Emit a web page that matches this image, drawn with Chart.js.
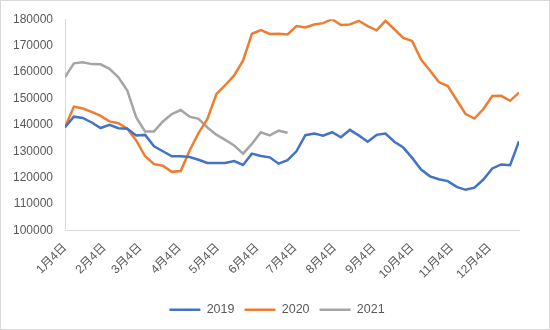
<!DOCTYPE html>
<html>
<head>
<meta charset="utf-8">
<script src="https://cdn.jsdelivr.net/npm/chart.js@4"></script>
<style>
  html, body { margin: 0; padding: 0; background: #ffffff; }
  #wrap { width: 550px; height: 330px; }
</style>
</head>
<body>
<div id="wrap"><canvas id="c" width="550" height="330"></canvas></div>
<script>
// Weekly series, first point on 1月4日, one point per week
const series2019 = [139100, 143100, 142600, 140900, 138800, 140000, 138700, 138500, 136000, 136200,
  131900, 130000, 128100, 128100, 127800, 126800, 125600, 125600, 125600, 126300,
  124800, 129100, 128200, 127700, 125300, 126600, 130000, 136100, 136700, 135900,
  137200, 135300, 138100, 136000, 133600, 136200, 136700, 133600, 131400, 127500,
  123100, 120500, 119400, 118700, 116500, 115400, 116200, 119300, 123500, 125000,
  124700, 133800];
const series2020 = [139100, 146900, 146200, 144900, 143400, 141300, 140600, 138500, 134100, 128100,
  125100, 124500, 122200, 122500, 130300, 136900, 142200, 151600, 155000, 158700,
  164300, 174500, 175900, 174400, 174500, 174200, 177400, 176900, 178000, 178500,
  180000, 177800, 178000, 179400, 177400, 175800, 179400, 176200, 172900, 171700,
  164700, 160600, 156200, 154700, 149400, 144100, 142400, 146000, 150900, 151000,
  149100, 152200];
const series2021 = [158100, 163300, 163700, 163000, 162900, 161200, 158000, 153000, 142800, 137500,
  137500, 141300, 144100, 145600, 143100, 142300, 139000, 136300, 134300, 132200,
  129100, 132800, 137200, 136000, 137800, 137000];
const seriesNames = ['2019', '2020', '2021'];
const tickLabels = ['1月4日', '2月4日', '3月4日', '4月4日', '5月4日', '6月4日',
  '7月4日', '8月4日', '9月4日', '10月4日', '11月4日', '12月4日'];
const yTicks = [100000, 110000, 120000, 130000, 140000, 150000, 160000, 170000, 180000];

// Date helpers: days since 1月4日
const DAY = 86400000;
const start = Date.UTC(2019, 0, 4);
const tickDays = tickLabels.map((_, m) => Math.round((Date.UTC(2019, m, 4) - start) / DAY));
const weekDays = (i) => i * 7;
const toPoints = (arr) => arr.map((v, i) => ({ x: weekDays(i), y: v }));
const lastDay = weekDays(series2019.length - 1);

const colors = ['#4472C4', '#ED7D31', '#A5A5A5'];
const allSeries = [series2019, series2020, series2021];
const fontFam = "'Liberation Sans', 'Noto Sans CJK SC', sans-serif";

const borderPlugin = {
  id: 'outerBorder',
  beforeDraw(chart) {
    const ctx = chart.ctx;
    ctx.save();
    ctx.fillStyle = '#ffffff';
    ctx.fillRect(0, 0, chart.width, chart.height);
    ctx.restore();
    // centre the legend on the whole chart area like the reference
    if (chart.legend) {
      chart.legend.left = 4;
      chart.legend.right = chart.width;
    }
  },
  afterDraw(chart) {
    const ctx = chart.ctx;
    ctx.save();
    ctx.strokeStyle = '#d9d9d9';
    ctx.lineWidth = 1;
    ctx.strokeRect(0.5, 0.5, chart.width - 1, chart.height - 1);
    ctx.restore();
  }
};

new Chart(document.getElementById('c'), {
  type: 'line',
  data: {
    datasets: allSeries.map((s, k) => ({
      label: seriesNames[k],
      data: toPoints(s),
      borderColor: colors[k],
      backgroundColor: colors[k],
      borderWidth: 2.5,
      pointRadius: 0,
      tension: 0,
      fill: false
    }))
  },
  options: {
    responsive: false,
    animation: false,
    layout: { padding: { top: 18, right: 31, bottom: 4, left: 0 } },
    plugins: {
      legend: {
        position: 'bottom',
        labels: {
          usePointStyle: true,
          pointStyle: 'line',
          pointStyleWidth: 31,
          color: '#595959',
          font: { family: fontFam, size: 12.5 },
          padding: 10
        }
      },
      tooltip: { enabled: false }
    },
    scales: {
      x: {
        type: 'linear',
        min: 0,
        max: lastDay,
        grid: { display: false, drawTicks: false },
        border: { display: true, color: '#d9d9d9', width: 1 },
        afterBuildTicks: (scale) => { scale.ticks = tickDays.map(v => ({ value: v })); },
        afterFit: (scale) => { scale.height = 63; },
        ticks: {
          autoSkip: false,
          minRotation: 45,
          maxRotation: 45,
          padding: 10,
          color: '#595959',
          font: { family: fontFam, size: 12 },
          callback: (v) => { const i = tickDays.indexOf(v); return i >= 0 ? tickLabels[i] : ''; }
        }
      },
      y: {
        min: yTicks[0],
        max: yTicks[yTicks.length - 1],
        grid: { display: false, drawTicks: false },
        border: { display: true, color: '#d9d9d9', width: 1 },
        afterBuildTicks: (scale) => { scale.ticks = yTicks.map(v => ({ value: v })); },
        afterFit: (scale) => { scale.width = 65; },
        ticks: {
          padding: 12,
          color: '#595959',
          font: { family: fontFam, size: 12 },
          callback: (v) => String(v)
        }
      }
    }
  },
  plugins: [borderPlugin]
});
</script>
</body>
</html>
